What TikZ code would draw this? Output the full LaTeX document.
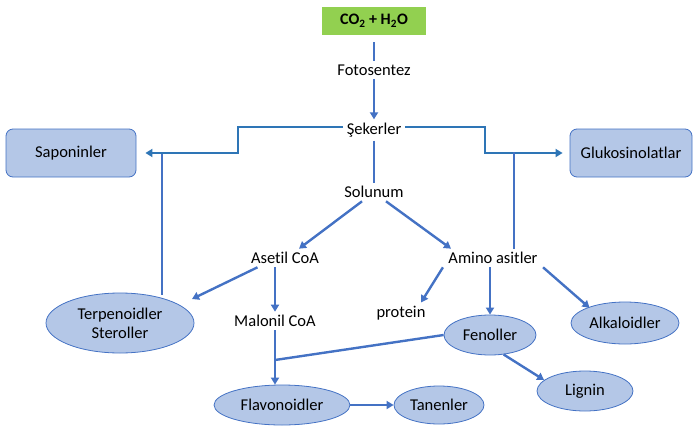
\documentclass[tikz,border=0pt]{standalone}
\usepackage{fontspec}
\setmainfont{Carlito}[Ligatures=CommonOff]
\usetikzlibrary{arrows.meta,positioning,shapes.geometric,calc}
\definecolor{lineblue}{HTML}{4472C4}
\definecolor{linkblue}{HTML}{2E75B6}
\definecolor{boxfill}{HTML}{B4C7E7}
\definecolor{leafgreen}{HTML}{92D050}

\begin{document}
\begin{tikzpicture}[x=1pt, y=-1pt,
    lbl/.style={font=\fontsize{16.5}{19}\selectfont, text=black},
    rbox/.style={rectangle, rounded corners=7pt, draw=lineblue, fill=boxfill, line width=0.8pt, minimum height=48pt, lbl},
    oval/.style={ellipse, draw=lineblue, fill=boxfill, line width=0.8pt, inner sep=0pt, lbl},
    arr/.style={draw=lineblue, line width=2.4pt, -{Triangle[length=7pt, width=8pt]}},
    ln/.style={draw=lineblue, line width=2.4pt},
    link/.style={draw=linkblue, line width=2.4pt}
]
    \useasboundingbox (0,0) rectangle (694,426);

    % Top: CO2 + H2O and sugars
    \node[rectangle, fill=leafgreen, minimum width=104pt, minimum height=28pt, lbl, font=\fontsize{16}{19}\selectfont\bfseries] (co2) at (374,21) {CO\textsubscript{2} + H\textsubscript{2}O};
    \node[lbl] (foto) at (374,70) {Fotosentez};
    \node[lbl] (sek) at (374,130) {Şekerler};
    \node[lbl] (solu) at (374,192) {Solunum};

    % Side boxes
    \node[rbox, minimum width=130pt] (sapo) at (71,153) {Saponinler};
    \node[rbox, minimum width=122pt] (gluk) at (631,153) {Glukosinolatlar};

    % Middle level
    \node[lbl] (acoa) at (285,258) {Asetil CoA};
    \node[lbl] (amino) at (493,258) {Amino asitler};
    \node[lbl] (malo) at (275,321) {Malonil CoA};
    \node[lbl] (prot) at (401,313) {protein};

    % Ellipses
    \node[oval, minimum width=148pt, minimum height=60pt, align=center] (terp) at (120,323) {Terpenoidler\\Steroller};
    \node[oval, minimum width=92pt, minimum height=40pt] (fen) at (490,335) {Fenoller};
    \node[oval, minimum width=108pt, minimum height=42pt] (alk) at (625,323) {Alkaloidler};
    \node[oval, minimum width=136pt, minimum height=40pt] (flav) at (282,405) {Flavonoidler};
    \node[oval, minimum width=90pt, minimum height=38pt] (tan) at (439,405) {Tanenler};
    \node[oval, minimum width=96pt, minimum height=40pt] (lig) at (585,391) {Lignin};

    % Junction points and free ends
    \coordinate (sl) at (238,127);
    \coordinate (sr) at (485,127);
    \coordinate (tj) at (162,154);
    \coordinate (aj) at (514,152);
    \coordinate (jn) at (275,360);
    \coordinate (tipT) at (192,299);

    % Main chain
    \draw[ln] (co2.south) ++(0,7) -- (foto.north);
    \draw[arr] (foto.south) -- (sek.north);
    \draw[ln] (sek.south) -- (solu.north);
    \draw[arr] ([xshift=-12pt]solu.south) -- ([xshift=14pt]acoa.north);
    \draw[arr] ([xshift=12pt]solu.south) -- ([xshift=-42pt]amino.north);

    % Sugars to side boxes
    \draw[link, -{Triangle[length=7pt, width=8pt]}] (sek.west |- sl) -- (sl) |- ([xshift=9pt]sapo.east);
    \draw[link, -{Triangle[length=7pt, width=8pt]}] (sek.east |- sr) -- (sr) |- ([xshift=-7pt]gluk.west);
    \draw[ln] (tj) -- ($(terp.north -| tj)+(0,2)$);
    \draw[ln] (aj) -- (amino.north -| aj);

    % Asetil CoA branch
    \draw[arr] ([xshift=10pt]acoa.south west) -- (tipT);
    \draw[arr] (malo.north |- acoa.south) -- (malo.north);
    \draw[ln] (malo.south) -- (jn);
    \draw[arr] (jn) -- (malo.south |- flav.north);
    \draw[ln] (fen.west) -- (jn);
    \draw[arr] (flav.east) -- (tan.west);

    % Amino asitler branch
    \draw[arr] ([xshift=-2pt]amino.south west) -- ([xshift=20pt]prot.north);
    \draw[arr] (fen.north |- amino.south) -- (fen.north);
    \draw[arr] ([xshift=2pt]amino.south east) -- ([xshift=3pt]alk.north west);
    \draw[arr] (fen.-55) -- (lig.165);
\end{tikzpicture}
\end{document}
